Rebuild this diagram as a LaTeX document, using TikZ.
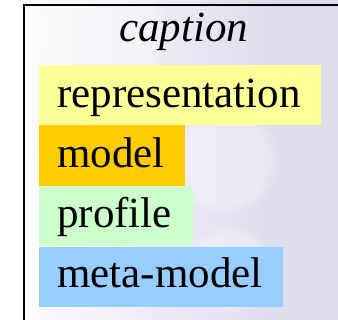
\documentclass[tikz,border=0pt]{standalone}
\usepackage{fontspec}
\setmainfont{Liberation Serif}
\usetikzlibrary{fadings}
\definecolor{lav}{HTML}{DEDDEE}
\definecolor{repcol}{HTML}{FFFF99}
\definecolor{modcol}{HTML}{FFCC00}
\definecolor{procol}{HTML}{CCFFCC}
\definecolor{metcol}{HTML}{99CCFF}
\tikzset{
  entry/.style={anchor=base west, inner sep=0pt, font=\fontsize{43}{50}\selectfont},
  frameline/.style={line width=2.2pt, black},
  glow/.style={fill=white, path fading=circle with fuzzy edge 20 percent, opacity=0.3}
}
\begin{document}
\begin{tikzpicture}[x=1pt,y=-1pt]
\useasboundingbox (0,0) rectangle (338,320);
% soft backdrop
\fill[lav] (0,0) rectangle (338,320);
\shade[left color=white, right color=lav] (0,0) rectangle (270,320);
\fill[white, opacity=0.5] (0,0) rectangle (24,320);
\foreach \cx/\cy/\r in {100/30/70, 225/160/55, 230/270/45, 60/200/60}
  \fill[glow] (\cx,\cy) circle (\r);
% frame
\draw[frameline] (24,320) -- (24,5) -- (338,5);
% caption
\node[inner sep=0pt, anchor=base, font=\fontsize{43}{50}\selectfont\itshape] (cap) at (183.5,42) {caption};
% colour entries
\fill[repcol] (39,65) rectangle (321,125.5);
\node[entry] (rep) at (57,108) {representation};
\fill[modcol] (39,125.5) rectangle (185,186);
\node[entry] (mod) at (57,168) {model};
\fill[procol] (39,186) rectangle (193,246);
\node[entry] (pro) at (57,228) {profile};
\fill[metcol] (39,247) rectangle (283,307);
\node[entry] (met) at (57,288) {meta-model};
\end{tikzpicture}
\end{document}
